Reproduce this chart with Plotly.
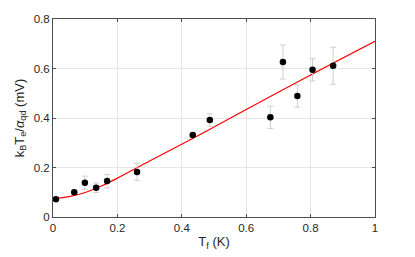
import plotly.graph_objects as go

# Measured data
tf = [0.009, 0.066, 0.099, 0.134, 0.168, 0.261, 0.434, 0.487, 0.675, 0.714, 0.759, 0.806, 0.870]
te = [0.072, 0.100, 0.138, 0.118, 0.145, 0.182, 0.331, 0.392, 0.403, 0.626, 0.489, 0.595, 0.611]
te_err = [0.004, 0.006, 0.027, 0.019, 0.027, 0.034, 0.008, 0.025, 0.045, 0.069, 0.045, 0.045, 0.075]

# Fit curve
fit_x = [0.0, 0.05, 0.1, 0.15, 0.2, 0.3, 0.435, 0.58, 0.787, 1.0]
fit_y = [0.074, 0.082, 0.099, 0.125, 0.157, 0.226, 0.318, 0.42, 0.565, 0.71]

x_ticks = [0, 0.2, 0.4, 0.6, 0.8, 1]
y_ticks = [0, 0.2, 0.4, 0.6, 0.8]

fig = go.Figure()
fig.add_trace(go.Scatter(
    x=fit_x, y=fit_y, mode="lines", line=dict(color="red", width=1.2, shape="spline"),
    hoverinfo="skip", showlegend=False))
fig.add_trace(go.Scatter(
    x=tf, y=te, mode="markers",
    marker=dict(color="black", size=6.5),
    error_y=dict(type="data", array=te_err, visible=True, color="#cfcfcf", thickness=1, width=3),
    showlegend=False))

axis_common = dict(
    showline=True, linecolor="#4d4d4d", linewidth=1, mirror="ticks",
    ticks="inside", ticklen=3, tickcolor="#4d4d4d",
    showgrid=True, gridcolor="#e6e6e6", gridwidth=1,
    zeroline=False, automargin=False,
    tickfont=dict(family="Liberation Sans, Arial", size=11.5, color="#262626"),
)

# page body has an 8px default margin; figure sized to fit the 415x257 window
fig.update_layout(
    width=407, height=249,
    margin=dict(l=45, r=40, t=11, b=40),
    plot_bgcolor="white", paper_bgcolor="white",
    font=dict(family="Liberation Sans, Arial", size=11, color="#262626"),
    xaxis=dict(range=[0, 1], tickvals=x_ticks, ticktext=[f"{v:g}" for v in x_ticks],
               title=dict(text="T<sub>f</sub> (K)", standoff=4, font=dict(size=13)), **axis_common),
    yaxis=dict(range=[0, 0.8], tickvals=y_ticks, ticktext=[f"{v:g}" for v in y_ticks],
               title=dict(text="k<sub>B</sub>T<sub>e</sub>/<i>α</i><sub>qd</sub> (mV)", standoff=6, font=dict(size=13)),
               **axis_common),
)

fig.write_html("out.html")
